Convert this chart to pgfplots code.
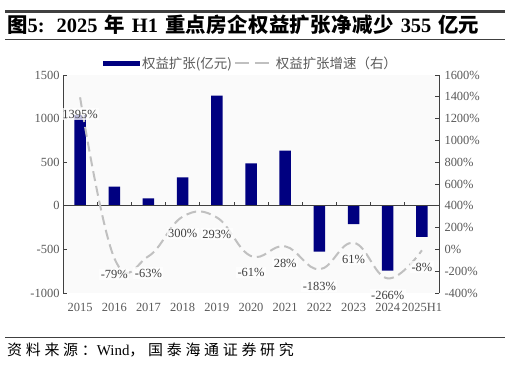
\documentclass[border=0pt]{standalone}
\usepackage{pgfplots}
\pgfplotsset{compat=1.18}
\usepackage{pgfplotstable}
\usepackage{fontspec}
\setmainfont{Liberation Serif}
\newfontfamily\cjk{Noto Sans CJK SC}
\definecolor{navy}{HTML}{000080}
\definecolor{lgray}{HTML}{C0C0C0}
\definecolor{tgray}{HTML}{595959}
\definecolor{agray}{HTML}{404040}

\pgfplotstableread{
x val g lab
0 1040 1395 1395
1 219 -79 -79
2 86 -63 -63
3 327 300 300
4 1263 293 293
5 487 -61 -61
6 632 28 28
7 -526 -183 -183
8 -209 61 61
9 -744 -266 -266
10 -355 -8 -8
}\datatable

\begin{document}
\begin{tikzpicture}[x=1bp,y=1bp]
\useasboundingbox (0,0) rectangle (512,364);
% title
\draw[line width=2.5bp, agray] (5,352.5) -- (505,352.5);
\node[anchor=base west, inner sep=0] at (7,332) {\fontsize{20.5}{22}\selectfont\bfseries {\cjk\bfseries 图}5:\hspace{12bp}2025\hspace{7bp}{\cjk\bfseries 年}\hspace{7bp}H1\hspace{7bp}{\cjk\bfseries\addfontfeature{LetterSpace=2} 重点房企权益扩张净减少}\hspace{7bp}355\hspace{7bp}{\cjk\bfseries 亿元}};
\draw[line width=0.8bp, agray] (5,325) -- (505,325);
% footer
\draw[line width=0.8bp, agray] (5,26.5) -- (505,26.5);
\node[anchor=base west, inner sep=0] at (7,9) {\fontsize{15}{17}\selectfont {\cjk\addfontfeature{LetterSpace=25} 资料来源：}Wind{\cjk\addfontfeature{LetterSpace=25} ，国泰海通证券研究}};

\begin{axis}[
  at={(63bp,71bp)}, anchor=south west, scale only axis,
  width=376bp, height=218bp,
  xmin=-0.5, xmax=10.5, ymin=-1000, ymax=1500,
  axis background/.style={fill=black!2},
  axis y line*=left, axis x line*=bottom,
  x axis line style={draw=none},
  y axis line style={agray, line width=0.8bp},
  xtick={0,...,10},
  xticklabels={2015,2016,2017,2018,2019,2020,2021,2022,2023,2024,2025H1},
  major x tick style={draw=none},
  ytick={-1000,-500,0,500,1000,1500},
  yticklabels={-1000,-500,0,500,1000,1500},
  tick align=inside, major tick length=4bp,
  y tick style={agray, line width=0.8bp},
  ticklabel style={font=\fontsize{12.5}{14}\selectfont, text=tgray},
  xticklabel style={yshift=-7bp, inner xsep=0pt},
  legend columns=2,
  legend style={at={(0.5,1)}, anchor=south, yshift=1bp, draw=none, fill=none,
    font=\fontsize{13.5}{14}\selectfont, text=tgray},
]
\addplot[ybar, bar width=11.5bp, fill=navy, draw=none,
  legend image code/.code={\fill[navy] (0bp,-2.5bp) rectangle (37bp,2.5bp);}]
  table[x=x, y=val] {\datatable};
\addlegendentry{{\cjk 权益扩张(亿元)}\hspace{22bp}}
\addlegendimage{lgray, line width=2bp, dash pattern=on 14bp off 6bp,
  legend image code/.code={\draw[lgray, line width=2bp, dash pattern=on 14bp off 6bp] (0bp,0bp) -- (38bp,0bp);}}
\addlegendentry{\cjk 权益扩张增速（右）}
\draw[agray, line width=0.8bp] (axis cs:-0.5,0) -- (axis cs:10.5,0);
\pgfplotsinvokeforeach{0.5,1.5,2.5,3.5,4.5,5.5,6.5,7.5,8.5,9.5}{
  \draw[agray, line width=0.8bp] (axis cs:#1,0) -- ([yshift=4bp]axis cs:#1,0);
}
\end{axis}

\begin{axis}[
  at={(63bp,71bp)}, anchor=south west, scale only axis,
  width=376bp, height=218bp,
  xmin=-0.5, xmax=10.5, ymin=-400, ymax=1600,
  axis y line*=right, axis x line=none,
  y axis line style={agray, line width=0.8bp},
  ytick={-400,-200,0,200,400,600,800,1000,1200,1400,1600},
  yticklabels={-400\%,-200\%,0\%,200\%,400\%,600\%,800\%,1000\%,1200\%,1400\%,1600\%},
  tick align=inside, major tick length=4bp,
  y tick style={agray, line width=0.8bp},
  yticklabel style={font=\fontsize{12.5}{14}\selectfont, text=tgray, xshift=2bp},
]
\addplot[lgray, line width=2bp, dash pattern=on 10bp off 5bp, smooth, tension=0.7,
  point meta=explicit symbolic,
  nodes near coords={\pgfplotspointmeta\%},
  nodes near coords style={font=\fontsize{12.5}{14}\selectfont, text=agray,
    fill=white, fill opacity=0.75, text opacity=1, anchor=north, yshift=-10bp, inner sep=1.5bp}]
  table[x=x, y=g, meta=lab] {\datatable};
\end{axis}
\end{tikzpicture}
\end{document}
